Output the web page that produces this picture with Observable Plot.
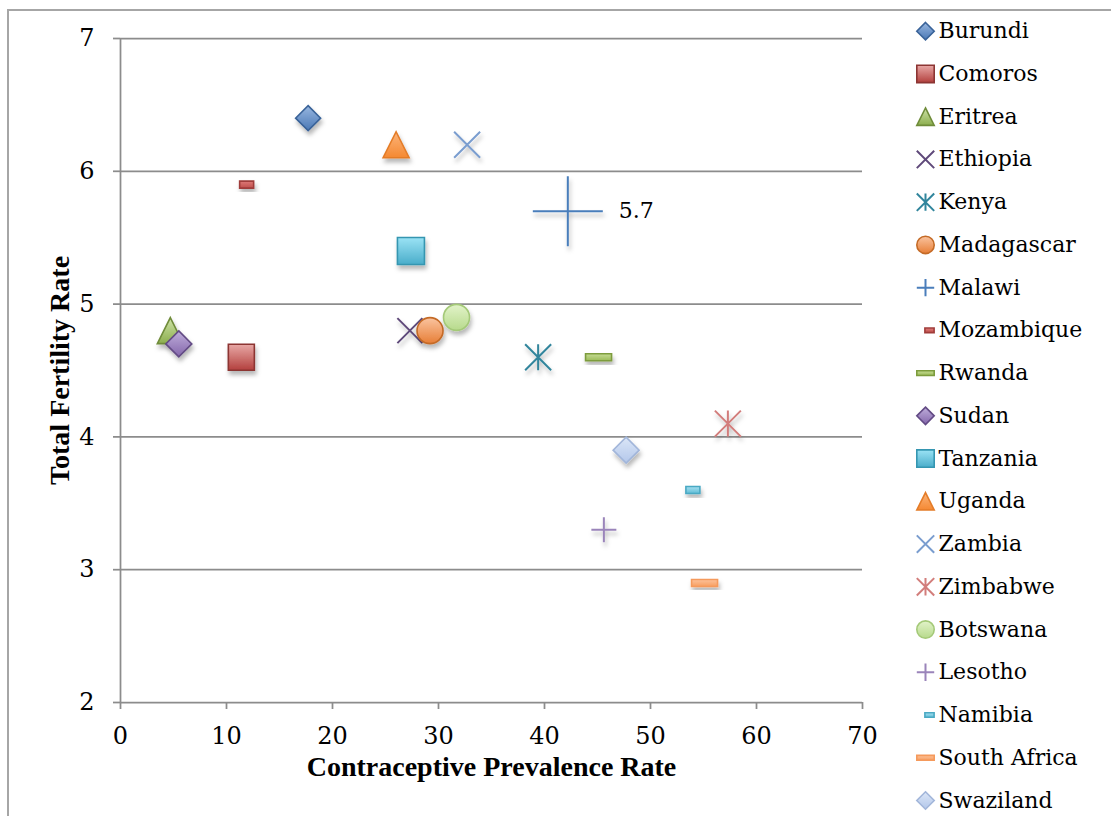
<!DOCTYPE html>
<html>
<head>
<meta charset="utf-8">
<script src="https://cdn.jsdelivr.net/npm/d3@7"></script>
<script src="https://cdn.jsdelivr.net/npm/@observablehq/plot@0.6"></script>
<style>
  html, body { margin: 0; padding: 0; background: #fff; overflow: hidden; }
  #frame { position: absolute; left: 7px; top: 9px; width: 1300px; height: 1000px; border: 2px solid #a6a6a6; pointer-events: none; }
  #chart { position: absolute; left: 0; top: 0; }
  #legend { position: absolute; left: 880px; top: 0; }
  #defs { position: absolute; width: 0; height: 0; }
</style>
</head>
<body>
<svg id="defs" width="0" height="0"><defs></defs></svg>
<div id="chart"></div>
<div id="legend"></div>
<div id="frame"></div>
<script>
// Contraceptive prevalence rate vs. total fertility rate, by country
const countries = ["Burundi", "Comoros", "Eritrea", "Ethiopia", "Kenya", "Madagascar", "Malawi",
  "Mozambique", "Rwanda", "Sudan", "Tanzania", "Uganda", "Zambia", "Zimbabwe", "Botswana",
  "Lesotho", "Namibia", "South Africa", "Swaziland"];
const cpr = [17.7, 11.4, 4.7, 27.3, 39.4, 29.2, 42.2, 11.9, 45.1, 5.5, 27.4, 26.0, 32.7, 57.3, 31.7, 45.6, 54.0, 55.1, 47.7];
const tfr = [6.4, 4.6, 4.8, 4.8, 4.6, 4.8, 5.7, 5.9, 4.6, 4.7, 5.4, 6.2, 6.2, 4.1, 4.9, 3.3, 3.6, 2.9, 3.9];
const xTicks = [0, 10, 20, 30, 40, 50, 60, 70];
const yTicks = [2, 3, 4, 5, 6, 7];
const labelled = ["Malawi"];

// Marker shapes; r is the half-extent recovered from the area Plot passes in
const half = (s) => Math.sqrt(s / Math.PI);
const shapes = {
  diamond: { draw(c, s) { const r = half(s); c.moveTo(0, -r); c.lineTo(r, 0); c.lineTo(0, r); c.lineTo(-r, 0); c.closePath(); } },
  square: { draw(c, s) { const r = half(s); c.moveTo(-r, -r); c.lineTo(r, -r); c.lineTo(r, r); c.lineTo(-r, r); c.closePath(); } },
  triangle: { draw(c, s) { const r = half(s); c.moveTo(0, -r); c.lineTo(r, r); c.lineTo(-r, r); c.closePath(); } },
  circle: { draw(c, s) { const r = half(s); c.moveTo(r, 0); c.arc(0, 0, r, 0, 2 * Math.PI); c.closePath(); } },
  times: { draw(c, s) { const r = half(s); c.moveTo(-r, -r); c.lineTo(r, r); c.moveTo(-r, r); c.lineTo(r, -r); } },
  plus: { draw(c, s) { const r = half(s); c.moveTo(-r, 0); c.lineTo(r, 0); c.moveTo(0, -r); c.lineTo(0, r); } },
  star: { draw(c, s) { const r = half(s); c.moveTo(-r, -r); c.lineTo(r, r); c.moveTo(-r, r); c.lineTo(r, -r); c.moveTo(0, -r); c.lineTo(0, r); } },
  dash: { draw(c, s) { const r = half(s), h = r * 0.27; c.moveTo(-r, -h); c.lineTo(r, -h); c.lineTo(r, h); c.lineTo(-r, h); c.closePath(); } },
  shortDash: { draw(c, s) { const r = half(s), h = r * 0.5; c.moveTo(-r, -h); c.lineTo(r, -h); c.lineTo(r, h); c.lineTo(-r, h); c.closePath(); } }
};

// Per-country marker look: shape, half-size, gradient (top/bottom) or line colour
const markerStyle = {
  "Burundi":      { shape: "diamond",   size: 12.5, top: "#98b7e0", bottom: "#4a78b5", stroke: "#3a6399" },
  "Comoros":      { shape: "square",    size: 13,   top: "#e8a8a6", bottom: "#b3403d", stroke: "#8c3533" },
  "Eritrea":      { shape: "triangle",  size: 13,   top: "#cfe3a8", bottom: "#8cae4e", stroke: "#6f8c3a" },
  "Ethiopia":     { shape: "times",     size: 12.5, line: "#5f497a" },
  "Kenya":        { shape: "star",      size: 13,   line: "#31859c" },
  "Madagascar":   { shape: "circle",    size: 13,   top: "#fac4a0", bottom: "#e77e36", stroke: "#c46a26" },
  "Malawi":       { shape: "plus",      size: 35,   line: "#4a7ebb" },
  "Mozambique":   { shape: "shortDash", size: 7,    top: "#de7a77", bottom: "#c0504d", stroke: "#a03c3a" },
  "Rwanda":       { shape: "dash",      size: 13,   top: "#c6dc94", bottom: "#9bbb59", stroke: "#7d9c3d" },
  "Sudan":        { shape: "diamond",   size: 13,   top: "#bfaedb", bottom: "#8466ab", stroke: "#634b85" },
  "Tanzania":     { shape: "square",    size: 13.5, top: "#9be3f5", bottom: "#4aadca", stroke: "#3596b1" },
  "Uganda":       { shape: "triangle",  size: 13,   top: "#fbb47a", bottom: "#f58932", stroke: "#e47c28" },
  "Zambia":       { shape: "times",     size: 13,   line: "#7a9dcf" },
  "Zimbabwe":     { shape: "star",      size: 13,   line: "#d27d7b" },
  "Botswana":     { shape: "circle",    size: 13,   top: "#e2f3c9", bottom: "#b7da8c", stroke: "#a4c978" },
  "Lesotho":      { shape: "plus",      size: 12.5, line: "#9a84ba" },
  "Namibia":      { shape: "shortDash", size: 7,    top: "#a7dff0", bottom: "#5fbdd6", stroke: "#4aa9c3" },
  "South Africa": { shape: "dash",      size: 13,   top: "#fcc39c", bottom: "#f89e60", stroke: "#f59a5c" },
  "Swaziland":    { shape: "diamond",   size: 13,   top: "#dbe6f7", bottom: "#b3c7ea", stroke: "#a2b6da" }
};

const gid = (name) => "grad-" + name.replace(/\s+/g, "-");

// Gradient fills and the soft drop shadow under the markers
const defs = d3.select("#defs defs");
const shadow = defs.append("filter").attr("id", "marker-shadow")
  .attr("x", "-50%").attr("y", "-50%").attr("width", "200%").attr("height", "200%");
shadow.append("feDropShadow").attr("dx", 1.5).attr("dy", 4).attr("stdDeviation", 2)
  .attr("flood-color", "#000").attr("flood-opacity", 0.28);
countries.forEach((name) => {
  const st = markerStyle[name];
  if (!st.top) return;
  const g = defs.append("linearGradient").attr("id", gid(name))
    .attr("x1", 0).attr("y1", 0).attr("x2", 0).attr("y2", 1);
  g.append("stop").attr("offset", "0%").attr("stop-color", st.top);
  g.append("stop").attr("offset", "100%").attr("stop-color", st.bottom);
});

function markerOptions(name, r) {
  const st = markerStyle[name];
  const filled = !!st.top;
  return {
    symbol: shapes[st.shape],
    r,
    fill: filled ? `url(#${gid(name)})` : "none",
    stroke: filled ? st.stroke : st.line,
    strokeWidth: filled ? 1.6 : 2
  };
}

const gridColor = "#8c8c8c";
const rows = countries.map((name, i) => ({ name, cpr: cpr[i], tfr: tfr[i] }));

const marks = [
  Plot.gridY({ ticks: yTicks.slice(1), stroke: gridColor, strokeOpacity: 1, strokeWidth: 1.75 }),
  Plot.ruleX([0], { stroke: gridColor, strokeWidth: 1.75 }),
  Plot.ruleY([2], { stroke: gridColor, strokeWidth: 1.75 }),
  Plot.axisX({ ticks: xTicks, tickFormat: d3.format("d"), tickSize: 7, tickPadding: 17, stroke: gridColor, strokeWidth: 1.75, fill: "black", fontSize: 24, label: null }),
  Plot.axisY({ ticks: yTicks, tickFormat: d3.format("d"), tickSize: 7, tickPadding: 19, stroke: gridColor, strokeWidth: 1.75, fill: "black", fontSize: 24, label: null }),
  ...rows.map((d) => Plot.dot([d], { x: "cpr", y: "tfr", ...markerOptions(d.name, markerStyle[d.name].size) })),
  Plot.text(rows.filter((d) => labelled.includes(d.name)), {
    x: "cpr", y: "tfr", text: (d) => d3.format(".1f")(d.tfr),
    dx: 51, textAnchor: "start", fontSize: 22, fill: "black"
  }),
  Plot.text(["Contraceptive Prevalence Rate"], {
    text: (d) => d, frameAnchor: "bottom", dy: 73, textAnchor: "middle",
    fontFamily: "'Liberation Serif', serif", fontWeight: "bold", fontSize: 28, fill: "black"
  }),
  Plot.text(["Total Fertility Rate"], {
    text: (d) => d, frameAnchor: "left", dx: -60, rotate: -90, textAnchor: "middle",
    fontFamily: "'Liberation Serif', serif", fontWeight: "bold", fontSize: 28, fill: "black"
  })
];

const chart = Plot.plot({
  width: 880,
  height: 816,
  marginLeft: 120,
  marginRight: 18,
  marginTop: 38,
  marginBottom: 114,
  x: { domain: [0, 70], label: null },
  y: { domain: [2, 7], label: null },
  style: { fontFamily: "'DejaVu Serif', serif", fontSize: "22px", color: "black", background: "transparent", overflow: "visible" },
  marks
});
d3.select(chart).selectAll('g[aria-label="dot"]').attr("filter", "url(#marker-shadow)");
document.getElementById("chart").appendChild(chart);

// Legend: one row per country, marker then name
const legendSize = (name) => (markerStyle[name].shape === "shortDash" ? 4.6 : 8.7);
const legendShift = (name) => (markerStyle[name].shape === "shortDash" ? 49 : 45);
const legend = Plot.plot({
  width: 231,
  height: 816,
  margin: 0,
  x: { axis: null, domain: [0, 1] },
  y: { domain: [0, countries.length - 1], range: [30.7, 800], axis: null },
  style: { fontFamily: "'DejaVu Serif', serif", fontSize: "22px", color: "black", background: "transparent", overflow: "visible" },
  marks: [
    ...countries.map((name, i) => Plot.dot([i], {
      y: (d) => d, frameAnchor: "left", dx: legendShift(name), ...markerOptions(name, legendSize(name))
    })),
    Plot.text(countries, { y: (d, i) => i, text: (d) => d, frameAnchor: "left", dx: 58, textAnchor: "start", fill: "black" })
  ]
});
document.getElementById("legend").appendChild(legend);
</script>
</body>
</html>
